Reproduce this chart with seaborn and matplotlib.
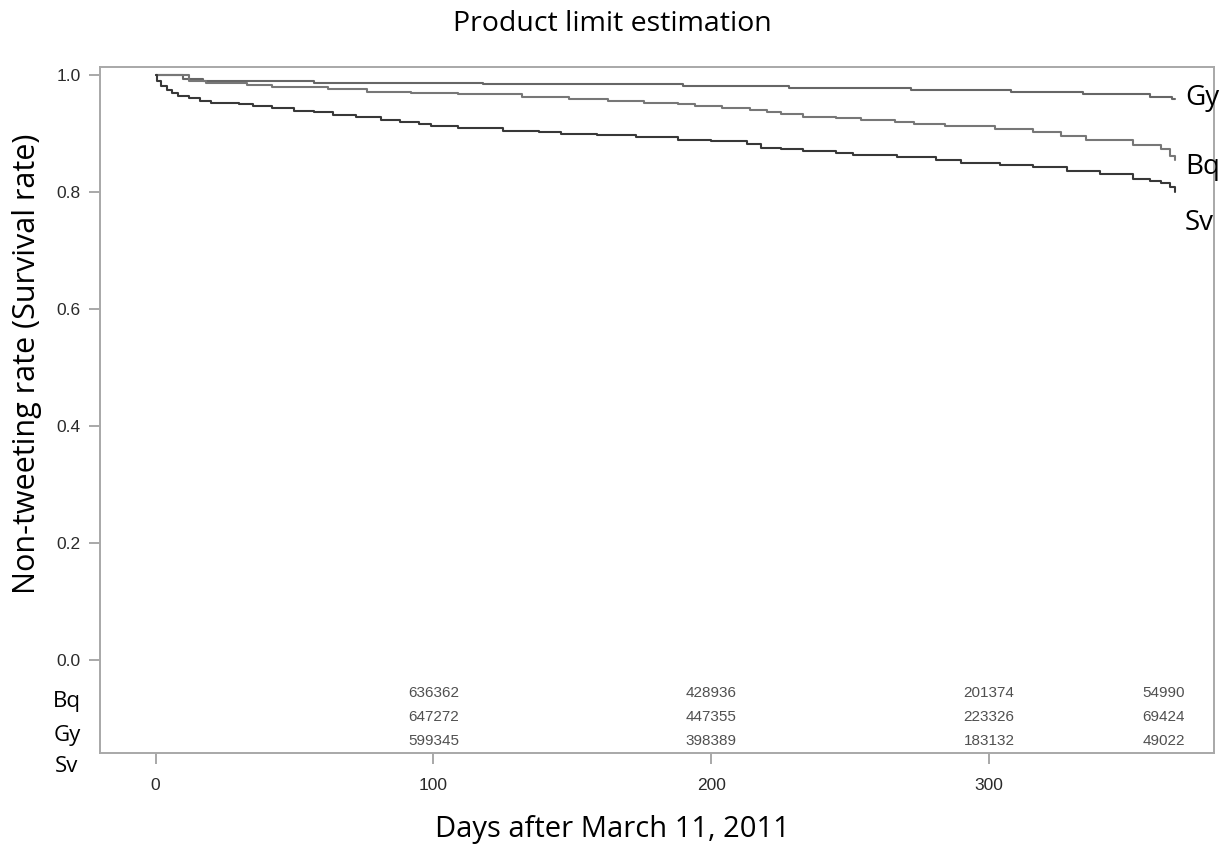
import numpy as np
import pandas as pd
import matplotlib
matplotlib.use("Agg")
import matplotlib.pyplot as plt
import seaborn as sns

# Kaplan-Meier step curves (day, survival)
gy_days = [0, 10, 17, 57, 118, 190, 228, 272, 308, 334, 358, 366, 367]
gy_surv = [1.0, 0.994, 0.990, 0.987, 0.984, 0.981, 0.978, 0.975, 0.971, 0.967, 0.963, 0.959, 0.959]

bq_days = [0, 12, 18, 33, 42, 62, 76, 92, 109, 132, 149, 163, 176, 188, 194, 204, 214, 220,
           225, 233, 245, 254, 266, 273, 284, 302, 316, 326, 335, 352, 362, 365, 367]
bq_surv = [1.0, 0.990, 0.987, 0.983, 0.979, 0.976, 0.971, 0.969, 0.967, 0.963, 0.959, 0.956,
           0.953, 0.950, 0.947, 0.944, 0.940, 0.936, 0.933, 0.929, 0.926, 0.923, 0.919, 0.916,
           0.913, 0.907, 0.903, 0.896, 0.889, 0.880, 0.873, 0.862, 0.855]

sv_days = [0, 0.4, 2, 4, 6, 8, 12, 16, 20, 30, 35, 42, 50, 57, 64, 72, 81, 88, 95, 99, 109,
           125, 138, 146, 159, 173, 188, 200, 213, 218, 225, 233, 245, 251, 267, 281, 290,
           304, 316, 328, 340, 352, 358, 362, 365, 367]
sv_surv = [1.0, 0.989, 0.981, 0.974, 0.969, 0.964, 0.960, 0.956, 0.953, 0.951, 0.947, 0.943,
           0.939, 0.936, 0.932, 0.928, 0.923, 0.920, 0.916, 0.913, 0.909, 0.905, 0.903, 0.900,
           0.897, 0.894, 0.889, 0.887, 0.882, 0.876, 0.873, 0.870, 0.866, 0.863, 0.859, 0.855,
           0.850, 0.846, 0.842, 0.836, 0.831, 0.823, 0.819, 0.815, 0.808, 0.800]

groups = ["Bq", "Gy", "Sv"]
risk_days = [100, 200, 300, 363]
risk_bq = ["636362", "428936", "201374", "54990"]
risk_gy = ["647272", "447355", "223326", "69424"]
risk_sv = ["599345", "398389", "183132", "49022"]

df = pd.concat([
    pd.DataFrame({"day": gy_days, "surv": gy_surv, "group": "Gy"}),
    pd.DataFrame({"day": bq_days, "surv": bq_surv, "group": "Bq"}),
    pd.DataFrame({"day": sv_days, "surv": sv_surv, "group": "Sv"}),
])

sns.set_style("white")
plt.rcParams["font.family"] = ["Open Sans", "DejaVu Sans"]
plt.rcParams["text.color"] = "black"

fig = plt.figure(figsize=(12.27, 8.49), dpi=100)
ax = fig.add_axes([100 / 1227, 1 - 753 / 849, 1114 / 1227, 686 / 849])

palette = {"Gy": "#666666", "Bq": "#777777", "Sv": "#383838"}
sns.lineplot(data=df, x="day", y="surv", hue="group", palette=palette,
             drawstyle="steps-post", linewidth=1.5, legend=False, ax=ax,
             estimator=None, sort=False)

ax.set_xlim(-20, 381)
ax.set_ylim(-0.159, 1.0137)
ax.set_xticks([0, 100, 200, 300])
ax.set_yticks([0.0, 0.2, 0.4, 0.6, 0.8, 1.0])
ax.set_yticklabels(["0.0", "0.2", "0.4", "0.6", "0.8", "1.0"])
ax.set_xlabel("")
ax.set_ylabel("")
for lab in ax.get_xticklabels() + ax.get_yticklabels():
    lab.set_fontfamily("Liberation Sans")
    lab.set_fontsize(12.5)
    lab.set_color("#2a2a2a")
ax.tick_params(axis="both", direction="out", length=8, width=1.2, color="#999999",
               left=True, bottom=True, pad=6)
ax.tick_params(axis="x", pad=10)
for sp in ax.spines.values():
    sp.set_color("#a8a8a8")
    sp.set_linewidth(1.4)

# numbers at risk inside the plot area
risk_rows = [risk_bq, risk_gy, risk_sv]
row_y = [-0.056, -0.097, -0.138]
for vals, yy in zip(risk_rows, row_y):
    for d, v in zip(risk_days, vals):
        ax.text(d, yy, v, ha="center", va="center", fontsize=11,
                family="Liberation Sans", color="#505050")

# curve end labels
end_y = {"Gy": 0.961, "Bq": 0.843, "Sv": 0.747}
for g in ["Gy", "Bq", "Sv"]:
    ax.text(370.6, end_y[g], g, ha="left", va="center", fontsize=20,
            color="black", clip_on=False)

# row labels for the risk table
for g, py in zip(groups, [702, 735, 766]):
    fig.text(67 / 1227, 1 - py / 849, g, ha="center", va="center", fontsize=16)

fig.text(612 / 1227, 1 - 24 / 849, "Product limit estimation", ha="center",
         va="center", fontsize=20.5)
fig.text(612 / 1227, 1 - 830 / 849, "Days after March 11, 2011", ha="center",
         va="center", fontsize=21)
fig.text(27 / 1227, 1 - 364 / 849, "Non-tweeting rate (Survival rate)", ha="center",
         va="center", rotation=90, fontsize=22)

fig.savefig("out.png", dpi=100)
